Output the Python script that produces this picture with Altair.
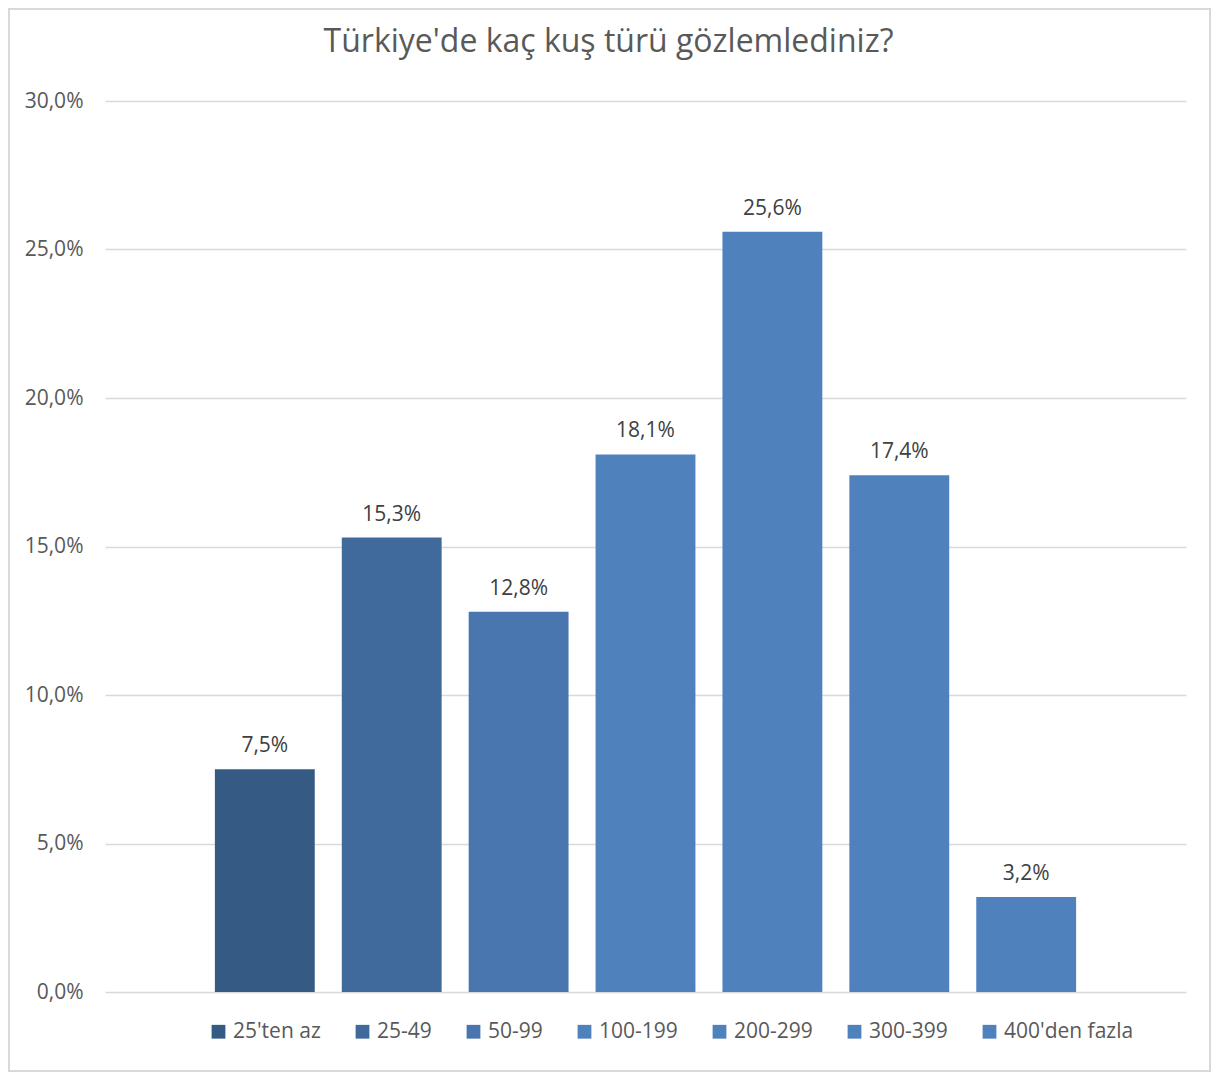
import altair as alt
import pandas as pd

categories = ["25'ten az", "25-49", "50-99", "100-199", "200-299", "300-399", "400'den fazla"]
values = [7.5, 15.3, 12.8, 18.1, 25.6, 17.4, 3.2]
colors = ["#355B85", "#406A9C", "#4976AE", "#4F81BD", "#4F81BD", "#4F81BD", "#4F81BD"]
y_ticks = [0, 5, 10, 15, 20, 25, 30]
title_text = "Türkiye'de kaç kuş türü gözlemlediniz?"

df = pd.DataFrame({"cat": categories, "val": values})
df["label"] = [f"{v:.1f}".replace(".", ",") + "%" for v in values]

FONT = "Open Sans"
W, H = 1081, 891

x = alt.X("cat:N", sort=categories, axis=None,
          scale=alt.Scale(paddingInner=0.213, paddingOuter=0.866))
y = alt.Y("val:Q", scale=alt.Scale(domain=[0, 30], nice=False),
          axis=alt.Axis(values=y_ticks, title=None, domain=False, ticks=False,
                        labelExpr="replace(format(datum.value, '.1f'), '.', ',') + '%'",
                        labelFontSize=21, labelColor="#595959", labelFont=FONT,
                        labelPadding=22, gridColor="#D9D9D9", gridWidth=1.3))

bars = alt.Chart(df).mark_bar().encode(
    x=x, y=y,
    color=alt.Color("cat:N", sort=categories,
                    scale=alt.Scale(domain=categories, range=colors),
                    legend=alt.Legend(title=None, orient="none", direction="horizontal",
                                      legendX=103, legendY=H + 29,
                                      symbolType="square", symbolSize=190,
                                      symbolStrokeWidth=0, symbolOpacity=1,
                                      labelFontSize=21, labelColor="#595959",
                                      labelFont=FONT, columnPadding=31,
                                      labelOffset=4, symbolOffset=0)),
)

labels = alt.Chart(df).mark_text(baseline="bottom", dy=-13, fontSize=21,
                                 color="#404040", font=FONT).encode(
    x=x, y=alt.Y("val:Q"), text="label:N")

frame = alt.Chart(df).mark_rect(fill=None, stroke="#D9D9D9", strokeWidth=1.5).encode(
    x=alt.value(-96), x2=alt.value(W + 24), y=alt.value(-92), y2=alt.value(H + 79))

chart = alt.layer(frame, bars, labels).properties(
    width=W, height=H,
    padding={"left": 97, "top": 93, "right": 26, "bottom": 82},
    autosize=alt.AutoSizeParams(type="none"),
    background="white",
    title=alt.TitleParams(title_text, fontSize=32, font=FONT, fontWeight="normal",
                          color="#595959", anchor="middle", frame="group",
                          dx=-37, offset=-51),
).configure_view(stroke=None)

chart.save("out.html", embed_options={"renderer": "svg", "actions": False})
